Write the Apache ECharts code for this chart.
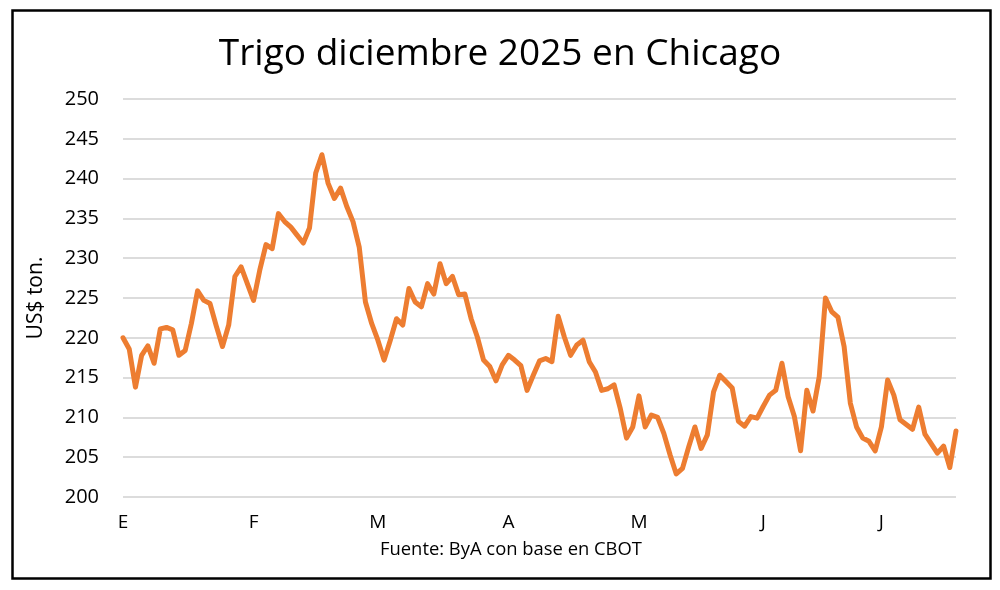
<!DOCTYPE html>
<html>
<head>
<meta charset="utf-8">
<script src="https://cdn.jsdelivr.net/npm/echarts@6/dist/echarts.min.js"></script>
<style>
  html, body { margin: 0; padding: 0; background: #fff; }
  #chart { width: 1000px; height: 590px; }
</style>
</head>
<body>
<div id="chart"></div>
<script>
// precio diario (US$/t), trigo dic-25 CBOT, ene a jul 2025
const prices = [
  220.0, 218.6, 213.8, 217.8, 219.0, 216.8, 221.1, 221.3, 221.0, 217.8,
  218.4, 221.8, 225.9, 224.7, 224.3, 221.5, 218.9, 221.6, 227.7, 228.9,
  226.8, 224.7, 228.5, 231.7, 231.2, 235.6, 234.6, 233.9, 232.9, 231.9,
  233.8, 240.7, 243.0, 239.4, 237.5, 238.8, 236.5, 234.6, 231.4, 224.5,
  221.8, 219.7, 217.2, 219.7, 222.4, 221.6, 226.2, 224.5, 223.9, 226.8,
  225.5, 229.3, 226.8, 227.7, 225.4, 225.5, 222.4, 220.1, 217.2, 216.4,
  214.6, 216.6, 217.8, 217.2, 216.5, 213.4, 215.3, 217.1, 217.4, 217.0,
  222.7, 220.1, 217.8, 219.1, 219.7, 217.0, 215.7, 213.4, 213.6, 214.1,
  211.1, 207.4, 208.8, 212.7, 208.8, 210.3, 210.0, 208.0, 205.3, 202.9,
  203.6, 206.3, 208.8, 206.1, 207.8, 213.2, 215.3, 214.5, 213.7, 209.5,
  208.9, 210.1, 209.9, 211.4, 212.8, 213.4, 216.8, 212.6, 210.1, 205.8,
  213.4, 210.8, 215.1, 225.0, 223.3, 222.6, 218.9, 211.8, 208.8, 207.4,
  207.0, 205.8, 208.8, 214.7, 212.8, 209.7, 209.1, 208.5, 211.3, 207.9,
  206.7, 205.5, 206.4, 203.7, 208.3
];

// primer dia de cada mes (indice) y su letra
const monthStarts = [0, 21, 41, 62, 83, 103, 122];
const monthLabels = ["E", "F", "M", "A", "M", "J", "J"];

const yTicks = { min: 200, max: 250, step: 5 };

const categories = prices.map((_, i) => {
  const k = monthStarts.indexOf(i);
  return k >= 0 ? monthLabels[k] : "";
});

const chart = echarts.init(document.getElementById("chart"));

const font = "Open Sans";

const option = {
  backgroundColor: "#fff",
  animation: false,
  title: {
    text: "Trigo diciembre 2025 en Chicago",
    left: "center",
    top: 31,
    textStyle: {
      fontFamily: font,
      fontSize: 37,
      fontWeight: "normal",
      color: "#000",
    },
  },
  grid: {
    left: 123,
    right: 44,
    top: 99,
    bottom: 93,
  },
  xAxis: {
    type: "category",
    data: categories,
    boundaryGap: false,
    axisLine: { show: false },
    axisTick: { show: false },
    axisLabel: {
      interval: (i) => monthStarts.includes(i),
      fontFamily: font,
      fontSize: 19,
      color: "#000",
      margin: 16,
    },
  },
  yAxis: {
    type: "value",
    min: yTicks.min,
    max: yTicks.max,
    interval: yTicks.step,
    name: "US$ ton.",
    nameLocation: "middle",
    nameGap: 76,
    nameTextStyle: {
      fontFamily: font,
      fontSize: 21,
      color: "#000",
    },
    axisLabel: {
      fontFamily: font,
      fontSize: 20,
      color: "#000",
      margin: 24,
    },
    splitLine: {
      show: true,
      lineStyle: { color: "#d0d0d0", width: 1.5 },
    },
  },
  graphic: [
    {
      type: "rect",
      left: 10,
      top: 8,
      shape: { width: 978, height: 568 },
      style: { fill: "none", stroke: "#000", lineWidth: 2.5 },
      silent: true,
    },
    {
      type: "text",
      left: 380,
      top: 541,
      style: {
        text: "Fuente: ByA con base en CBOT",
        fontFamily: font,
        fontSize: 18.4,
        fill: "#000",
      },
    },
  ],
  series: [
    {
      name: "Trigo dic-25",
      type: "line",
      data: prices,
      showSymbol: false,
      smooth: false,
      color: "#ED7D31",
      lineStyle: {
        width: 5,
        join: "round",
        cap: "round",
      },
    },
  ],
};

chart.setOption(option);
</script>
</body>
</html>
